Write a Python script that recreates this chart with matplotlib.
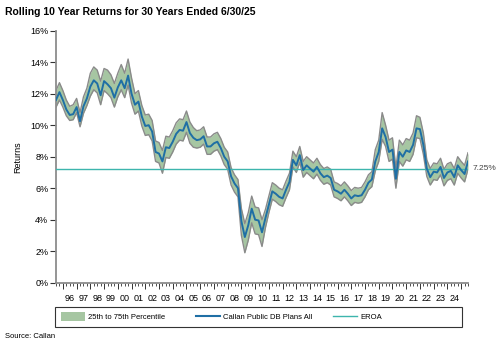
import matplotlib
matplotlib.use("Agg")
import matplotlib.pyplot as plt
import numpy as np
from matplotlib.patches import Patch, Rectangle
from matplotlib.lines import Line2D

plt.rcParams['font.family'] = ['Liberation Sans', 'DejaVu Sans']

# quarterly, 6/30/1995 .. 6/30/2025
start_year = 1995.5
median = [11.6, 12.1, 11.6, 11.0, 10.65, 10.7, 11.15, 10.25, 11.2, 11.7,
          12.45, 12.85, 12.65, 11.9, 12.8, 12.6, 12.35, 11.75, 12.4, 12.85,
          12.35, 13.15, 12.0, 11.3, 11.5, 10.55, 9.95, 10.0, 9.6, 8.3,
          8.2, 7.7, 8.6, 8.55, 8.95, 9.45, 9.7, 9.65, 10.2, 9.5,
          9.2, 9.05, 9.1, 9.3, 8.65, 8.65, 8.85, 8.95, 8.55, 8.0,
          7.7, 6.75, 6.3, 6.0, 3.9, 2.9, 3.65, 4.7, 4.0, 3.95,
          3.2, 4.1, 4.95, 5.8, 5.65, 5.45, 5.35, 5.9, 6.4, 7.8,
          7.45, 8.1, 7.15, 7.45, 7.25, 7.05, 7.35, 6.95, 6.7, 6.8,
          6.65, 5.9, 5.8, 5.65, 5.9, 5.65, 5.35, 5.55, 5.5, 5.55,
          5.9, 6.35, 6.55, 7.7, 8.3, 9.8, 9.25, 8.3, 8.45, 6.6,
          8.3, 8.0, 8.4, 8.3, 8.75, 9.8, 9.75, 8.75, 7.25, 6.7,
          7.05, 7.0, 7.35, 6.65, 7.0, 7.1, 6.7, 7.45, 7.15, 6.9,
          7.7]
p25 = [12.2, 12.7, 12.2, 11.6, 11.2, 11.3, 11.7, 10.8, 11.8, 12.35,
       13.3, 13.7, 13.5, 12.8, 13.6, 13.5, 13.2, 12.65, 13.3, 13.85,
       13.3, 14.2, 13.0, 12.0, 12.2, 11.25, 10.65, 10.7, 10.3, 9.0,
       8.9, 8.4, 9.3, 9.25, 9.65, 10.15, 10.4, 10.35, 10.9, 10.2,
       9.85, 9.65, 9.7, 9.9, 9.25, 9.25, 9.45, 9.55, 9.15, 8.6,
       8.3, 7.3, 6.85, 6.55, 4.7, 3.75, 4.45, 5.5, 4.8, 4.75,
       4.0, 4.65, 5.5, 6.35, 6.2, 6.0, 5.9, 6.45, 6.95, 8.35,
       8.0, 8.65, 7.7, 8.0, 7.8, 7.6, 7.9, 7.5, 7.25, 7.35,
       7.2, 6.4, 6.3, 6.15, 6.4, 6.15, 5.85, 6.05, 6.0, 6.05,
       6.4, 6.85, 7.05, 8.45, 9.05, 10.8, 10.0, 9.05, 9.2, 7.3,
       9.05, 8.75, 9.15, 9.05, 9.5, 10.6, 10.5, 9.5, 7.8, 7.25,
       7.6, 7.55, 7.9, 7.2, 7.55, 7.65, 7.25, 8.0, 7.7, 7.45,
       8.25]
p75 = [11.15, 11.6, 11.15, 10.6, 10.3, 10.35, 10.8, 9.9, 10.75, 11.25,
       11.85, 12.25, 12.05, 11.3, 12.2, 12.0, 11.75, 11.15, 11.8, 12.25,
       11.75, 12.55, 11.4, 10.7, 10.9, 9.95, 9.35, 9.4, 9.0, 7.7,
       7.6, 6.95, 7.95, 7.9, 8.3, 8.8, 9.05, 9.0, 9.55, 8.85,
       8.6, 8.55, 8.6, 8.8, 8.15, 8.15, 8.35, 8.45, 8.05, 7.5,
       7.2, 6.2, 5.75, 5.45, 3.0, 1.9, 2.7, 3.8, 3.1, 3.05,
       2.3, 3.5, 4.45, 5.3, 5.15, 4.95, 4.85, 5.4, 5.9, 7.35,
       7.0, 7.65, 6.7, 7.0, 6.8, 6.6, 6.9, 6.5, 6.25, 6.35,
       6.2, 5.45, 5.35, 5.2, 5.45, 5.2, 4.9, 5.1, 5.05, 5.1,
       5.45, 5.9, 6.1, 7.1, 7.7, 9.1, 8.65, 7.7, 7.85, 6.0,
       7.7, 7.4, 7.8, 7.7, 8.15, 9.2, 9.15, 8.15, 6.75, 6.2,
       6.55, 6.5, 6.85, 6.15, 6.5, 6.6, 6.2, 6.95, 6.65, 6.4,
       7.2]
eroa = 7.25
year_labels = ["96", "97", "98", "99", "00", "01", "02", "03", "04", "05",
               "06", "07", "08", "09", "10", "11", "12", "13", "14", "15",
               "16", "17", "18", "19", "20", "21", "22", "23", "24"]
y_ticks = [0, 2, 4, 6, 8, 10, 12, 14, 16]
legend_labels = ["25th to 75th Percentile", "Callan Public DB Plans All", "EROA"]

t = start_year + 0.25 * np.arange(len(median))

fig = plt.figure(figsize=(5.0, 3.45), dpi=100)
ax = fig.add_axes([56/500, 1 - 282.7/345, 412/500, 252/345])

band_col = '#a6c6a2'
edge_col = '#8a8a8a'
med_col = '#1f6fa5'
eroa_col = '#3db5ad'

ax.fill_between(t, p75, p25, color=band_col, lw=0, zorder=1)
ax.plot(t, p25, color=edge_col, lw=1.0, zorder=2)
ax.plot(t, p75, color=edge_col, lw=1.0, zorder=2)
ax.axhline(eroa, color=eroa_col, lw=1.0, zorder=3)
ax.plot(t, median, color=med_col, lw=1.4, zorder=4)

ax.set_xlim(start_year, start_year + 30)
ax.set_ylim(0, 16)
ax.set_yticks(y_ticks)
ax.set_yticklabels([f"{v}%" for v in y_ticks])
ax.set_ylabel("Returns", fontsize=6.5, labelpad=6)

for s in ['top', 'right']:
    ax.spines[s].set_visible(False)
for s in ['left', 'bottom']:
    ax.spines[s].set_color('#8c8c8c')
    ax.spines[s].set_linewidth(1.3)

ax.tick_params(axis='y', labelsize=6.5, length=4, width=0.8, color='#333333', pad=1.5)
years = np.arange(1996, 2026)
ax.set_xticks(years)
ax.set_xticklabels([])
ax.set_xticks(start_year + 0.25 * np.arange(121), minor=True)
ax.tick_params(axis='x', which='major', length=4, width=0.7, color='#333333')
ax.tick_params(axis='x', which='minor', length=2.5, width=0.6, color='#333333')

sec = ax.secondary_xaxis('bottom')
sec.set_xticks(np.arange(1996, 2025) + 0.5)
sec.set_xticklabels(year_labels)
sec.tick_params(length=0, labelsize=6.5, pad=8)
sec.spines['bottom'].set_visible(False)

ax.text(1.01, eroa, "7.25%", transform=ax.get_yaxis_transform(), fontsize=6,
        color='#444444', va='center', ha='left')

fig.text(5/500, 1 - 12/345, "Rolling 10 Year Returns for 30 Years Ended 6/30/25",
         fontsize=7.5, fontweight='bold', va='center', ha='left')
fig.text(5/500, 1 - 337/345, "Source: Callan", fontsize=5.5, va='center', ha='left')

# legend box
fig.patches.append(Rectangle((55/500, 1 - 326.7/345), 407/500, 20/345,
                             transform=fig.transFigure, fill=False,
                             edgecolor='#333333', lw=0.8))
handles = [Patch(facecolor=band_col, edgecolor='none'),
           Line2D([], [], color=med_col, lw=1.5),
           Line2D([], [], color=eroa_col, lw=1.0)]
starts = [57, 192, 329]
for h, lab, x0 in zip(handles, legend_labels, starts):
    fig.legend([h], [lab], loc='center left',
               bbox_to_anchor=(x0/500, 1 - 316.7/345),
               fontsize=5.5, frameon=False, borderpad=0.0,
               handlelength=3.2, handleheight=1.3, handletextpad=0.4)

fig.savefig("out.png", dpi=100)
